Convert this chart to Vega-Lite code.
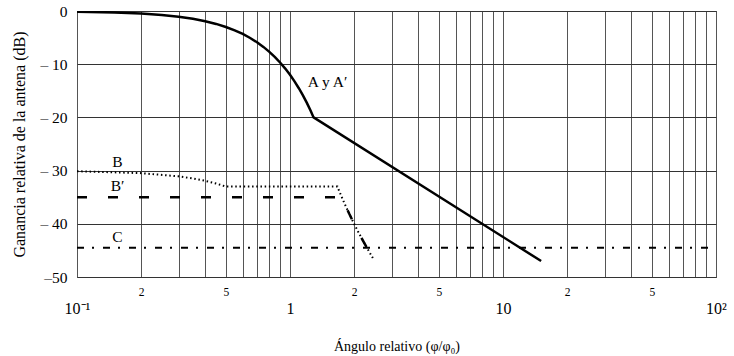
{
  "$schema": "https://vega.github.io/schema/vega-lite/v6.json",
  "width": 639,
  "height": 266,
  "autosize": {"type": "none"},
  "padding": {"left": 77, "top": 11, "right": 18, "bottom": 79},
  "background": "white",
  "config": {
    "font": "Liberation Serif",
    "view": {"stroke": "#333", "strokeWidth": 1}
  },
  "datasets": {
    "A": [
      {"x": 0.1, "y": -0.12}, {"x": 0.15, "y": -0.27}, {"x": 0.2, "y": -0.48}, {"x": 0.25, "y": -0.75},
      {"x": 0.3, "y": -1.08}, {"x": 0.35, "y": -1.47}, {"x": 0.4, "y": -1.92}, {"x": 0.45, "y": -2.43},
      {"x": 0.5, "y": -3.0}, {"x": 0.55, "y": -3.63}, {"x": 0.6, "y": -4.32}, {"x": 0.65, "y": -5.07},
      {"x": 0.7, "y": -5.88}, {"x": 0.75, "y": -6.75}, {"x": 0.8, "y": -7.68}, {"x": 0.85, "y": -8.67},
      {"x": 0.9, "y": -9.72}, {"x": 0.95, "y": -10.83}, {"x": 1.0, "y": -12.0}, {"x": 1.05, "y": -13.23},
      {"x": 1.1, "y": -14.52}, {"x": 1.15, "y": -15.87}, {"x": 1.2, "y": -17.28}, {"x": 1.25, "y": -18.75},
      {"x": 1.29, "y": -20.0}, {"x": 15.1, "y": -47.0}
    ],
    "B": [
      {"x": 0.1, "y": -30.12}, {"x": 0.2, "y": -30.48}, {"x": 0.3, "y": -31.08}, {"x": 0.35, "y": -31.47},
      {"x": 0.4, "y": -31.92}, {"x": 0.45, "y": -32.43}, {"x": 0.5, "y": -33.0}, {"x": 1.67, "y": -33.0},
      {"x": 1.7, "y": -33.8}, {"x": 1.8, "y": -36.12}, {"x": 1.9, "y": -38.17}, {"x": 2.0, "y": -40.0},
      {"x": 2.1, "y": -41.66}, {"x": 2.2, "y": -43.17}, {"x": 2.3, "y": -44.56}, {"x": 2.4, "y": -45.84},
      {"x": 2.45, "y": -46.46}
    ],
    "Bp": [
      {"x": 0.1, "y": -35.0}, {"x": 1.75, "y": -35.0}, {"x": 1.8, "y": -36.12}, {"x": 1.9, "y": -38.17},
      {"x": 2.0, "y": -40.0}, {"x": 2.1, "y": -41.66}, {"x": 2.2, "y": -43.17}, {"x": 2.3, "y": -44.56}
    ],
    "C": [
      {"x": 0.1, "y": -44.5}, {"x": 100, "y": -44.5}
    ],
    "labels": [
      {"x": 1.5, "y": -13.3, "text": "A y A′"},
      {"x": 0.155, "y": -28.4, "text": "B"},
      {"x": 0.155, "y": -32.9, "text": "B′"},
      {"x": 0.155, "y": -42.4, "text": "C"}
    ]
  },
  "layer": [
    {
      "data": {"name": "A"},
      "mark": {"type": "line", "color": "black", "strokeWidth": 2.5, "clip": true},
      "encoding": {
        "x": {
          "field": "x", "type": "quantitative",
          "scale": {"type": "log", "domain": [0.1, 100], "nice": false},
          "axis": {
            "values": [0.1, 0.2, 0.3, 0.4, 0.5, 0.6, 0.7, 0.8, 0.9, 1, 2, 3, 4, 5, 6, 7, 8, 9, 10, 20, 30, 40, 50, 60, 70, 80, 90, 100],
            "labelExpr": "datum.value == 0.1 ? '10⁻¹' : datum.value == 1 ? '1' : datum.value == 10 ? '10' : datum.value == 100 ? '10²' : (datum.value == 0.2 || datum.value == 2 || datum.value == 20) ? '2' : (datum.value == 0.5 || datum.value == 5 || datum.value == 50) ? '5' : ''",
            "labelFontSize": {"condition": {"test": "datum.value == 0.1 || datum.value == 1 || datum.value == 10 || datum.value == 100", "value": 16}, "value": 11.5},
            "labelPadding": {"condition": {"test": "datum.value == 0.1 || datum.value == 1 || datum.value == 10 || datum.value == 100", "value": 23}, "value": 9},
            "labelFont": "Liberation Serif",
            "labelColor": "black",
            "labelOverlap": false,
            "labelFlush": false,
            "labelBound": false,
            "ticks": false,
            "domain": false,
            "grid": true,
            "gridColor": "#555",
            "gridWidth": 1,
            "title": "Ángulo relativo (φ/φ₀)",
            "titleFont": "Liberation Serif",
            "titleFontSize": 14,
            "titleFontWeight": "normal",
            "titleColor": "black",
            "titlePadding": 23
          }
        },
        "y": {
          "field": "y", "type": "quantitative",
          "scale": {"domain": [-50, 0], "nice": false},
          "axis": {
            "values": [-50, -45, -40, -35, -30, -25, -20, -15, -10, -5, 0],
            "labelExpr": "datum.value == 0 ? '0' : datum.value == -50 ? '–50' : (datum.value % 10 == 0 ? '– ' + (-datum.value) : '')",
            "labelFont": "Liberation Serif",
            "labelFontSize": 15.5,
            "labelColor": "black",
            "labelPadding": 10,
            "ticks": false,
            "domain": false,
            "grid": true,
            "gridColor": "#333",
            "gridWidth": 1,
            "title": "Ganancia relativa de la antena (dB)",
            "titleFont": "Liberation Serif",
            "titleFontSize": 16,
            "titleFontWeight": "normal",
            "titleColor": "black",
            "titlePadding": 12
          }
        }
      }
    },
    {
      "data": {"name": "B"},
      "mark": {"type": "line", "color": "black", "strokeWidth": 2, "strokeDash": [1.5, 2.7], "clip": true},
      "encoding": {"x": {"field": "x", "type": "quantitative"}, "y": {"field": "y", "type": "quantitative"}}
    },
    {
      "data": {"name": "Bp"},
      "mark": {"type": "line", "color": "black", "strokeWidth": 2.5, "strokeDash": [10, 21], "clip": true},
      "encoding": {"x": {"field": "x", "type": "quantitative"}, "y": {"field": "y", "type": "quantitative"}}
    },
    {
      "data": {"name": "C"},
      "mark": {"type": "line", "color": "black", "strokeWidth": 2.2, "strokeDash": [7, 8, 2, 9], "clip": true},
      "encoding": {"x": {"field": "x", "type": "quantitative"}, "y": {"field": "y", "type": "quantitative"}}
    },
    {
      "data": {"name": "labels"},
      "mark": {"type": "text", "font": "Liberation Serif", "fontSize": 15.5, "color": "black", "align": "center", "baseline": "middle"},
      "encoding": {
        "x": {"field": "x", "type": "quantitative"},
        "y": {"field": "y", "type": "quantitative"},
        "text": {"field": "text"}
      }
    }
  ]
}
